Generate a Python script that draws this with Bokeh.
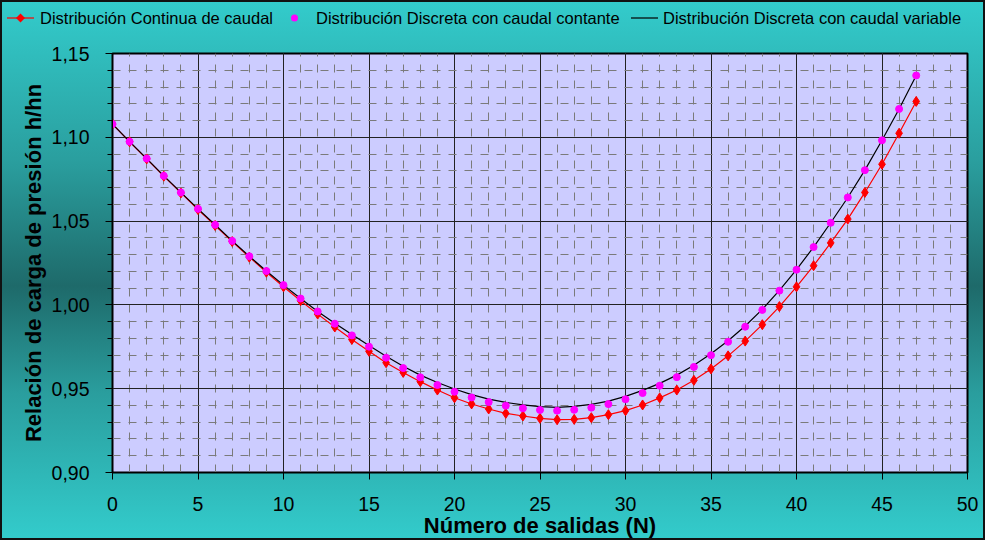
from bokeh.plotting import figure
from bokeh.layouts import column
from bokeh.models import Range1d, FixedTicker, CustomJSTickFormatter, Div
from bokeh.embed import file_html
from bokeh.resources import INLINE

# ---- data ----
N = list(range(48))

continua = [1.1079, 1.0973, 1.0871, 1.0768, 1.0668, 1.0569, 1.0474, 1.0378,
            1.0285, 1.0195, 1.0108, 1.0025, 0.9945, 0.9868, 0.9794, 0.9723,
            0.9655, 0.9597, 0.9542, 0.9492, 0.9446, 0.9409, 0.9379, 0.9353,
            0.9337, 0.9323, 0.9315, 0.9317, 0.9327, 0.9345, 0.9369, 0.9403,
            0.9445, 0.9492, 0.9550, 0.9618, 0.9696, 0.9784, 0.9882, 0.9990,
            1.0108, 1.0234, 1.0370, 1.0512, 1.0671, 1.0839, 1.1024, 1.1214]

discreta_const = [1.1079, 1.0974, 1.0873, 1.0770, 1.0671, 1.0573, 1.0478, 1.0382,
                  1.0290, 1.0202, 1.0118, 1.0038, 0.9961, 0.9888, 0.9818, 0.9751,
                  0.9685, 0.9623, 0.9568, 0.9522, 0.9482, 0.9448, 0.9420, 0.9399,
                  0.9383, 0.9373, 0.9369, 0.9374, 0.9387, 0.9408, 0.9437, 0.9474,
                  0.9518, 0.9569, 0.9630, 0.9700, 0.9780, 0.9870, 0.9970, 1.0085,
                  1.0210, 1.0345, 1.0490, 1.0641, 1.0804, 1.0982, 1.1169, 1.1369]

discreta_var = [1.1079, 1.0974, 1.0873, 1.0770, 1.0671, 1.0573, 1.0478, 1.0382,
                1.0290, 1.0202, 1.0118, 1.0038, 0.9961, 0.9891, 0.9823, 0.9758,
                0.9694, 0.9634, 0.9581, 0.9537, 0.9498, 0.9465, 0.9438, 0.9418,
                0.9403, 0.9393, 0.9389, 0.9394, 0.9406, 0.9426, 0.9454, 0.9490,
                0.9532, 0.9581, 0.9640, 0.9708, 0.9786, 0.9874, 0.9973, 1.0087,
                1.0211, 1.0345, 1.0490, 1.0641, 1.0804, 1.0982, 1.1169, 1.1369]

series_names = ["Distribución Continua de caudal",
                "Distribución Discreta con caudal contante",
                "Distribución Discreta con caudal variable"]

x_ticks = [0, 5, 10, 15, 20, 25, 30, 35, 40, 45, 50]
x_minor = list(range(0, 51))
y_ticks = [0.90, 0.95, 1.00, 1.05, 1.10, 1.15]
y_minor = [round(0.90 + 0.01 * i, 2) for i in range(26)]

x_label = "Número de salidas (N)"
y_label = "Relación de carga de presión h/hn"

FONT = "Liberation Sans"
RED = "#FF0000"
MAGENTA = "#FF00FF"

W = 985
LEG_H = 30

# ---------------- main chart ----------------
p = figure(width=W, height=540 - LEG_H, output_backend="svg", toolbar_location=None,
           x_range=Range1d(0, 50), y_range=Range1d(0.90, 1.15),
           min_border_left=112, min_border_right=18,
           min_border_top=53 - LEG_H, min_border_bottom=67)

p.background_fill_color = "#CCCCFF"
p.border_fill_color = None
p.outline_line_color = "black"
p.outline_line_width = 2

p.xaxis.ticker = FixedTicker(ticks=x_ticks, minor_ticks=x_minor)
p.yaxis.ticker = FixedTicker(ticks=y_ticks, minor_ticks=y_minor)
p.yaxis.formatter = CustomJSTickFormatter(code="return tick.toFixed(2).replace('.', ',');")

for ax in (p.xaxis[0], p.yaxis[0]):
    ax.axis_line_color = "black"
    ax.axis_line_width = 1
    ax.major_tick_line_color = "black"
    ax.minor_tick_line_color = "black"
    ax.major_tick_out = 7
    ax.major_tick_in = 0
    ax.minor_tick_in = 0
    ax.major_label_text_font = FONT
    ax.major_label_text_font_size = "19.5px"
    ax.major_label_text_color = "black"
    ax.axis_label_text_font = FONT
    ax.axis_label_text_font_size = "22px"
    ax.axis_label_text_font_style = "bold"
    ax.axis_label_text_color = "black"

p.xaxis.minor_tick_out = 0
p.yaxis.minor_tick_out = 5
p.xaxis.major_label_standoff = 17
p.xaxis.axis_label_standoff = -1
p.yaxis.major_label_standoff = 16
p.yaxis.axis_label_standoff = 3
p.xaxis.axis_label = x_label
p.yaxis.axis_label = y_label

for g in (p.xgrid[0], p.ygrid[0]):
    g.grid_line_color = "#222222"
    g.grid_line_width = 1
    g.minor_grid_line_color = "#7A7A7A"
    g.minor_grid_line_width = 1
    g.minor_grid_line_dash = "8 8"

p.line(N, continua, line_color=RED, line_width=1.2)
p.scatter(N, continua, marker="diamond", size=10, fill_color=RED, line_color=RED)
p.line(N, discreta_var, line_color="black", line_width=1.2)
p.scatter(N, discreta_const, marker="circle", size=7, fill_color=MAGENTA,
          line_color=MAGENTA)

# ---------------- legend strip (real text) ----------------
def glyph_svg(kind, color):
    parts = []
    if kind in ("line", "line+diamond"):
        parts.append(f'<line x1="0" y1="10" x2="27" y2="10" stroke="{color}" stroke-width="1.2"/>')
    if kind == "line+diamond":
        parts.append(f'<polygon points="13.5,5.5 18,10 13.5,14.5 9,10" fill="{color}"/>')
    if kind == "dot":
        parts.append(f'<circle cx="13.5" cy="10" r="3.5" fill="{color}"/>')
    return '<svg width="27" height="20" style="display:block">' + "".join(parts) + "</svg>"

legend_items = [
    (series_names[0], "line+diamond", RED, 7, 40),
    (series_names[1], "dot", MAGENTA, 281, 316),
    (series_names[2], "line", "black", 631, 663),
]
html = [f'<div style="position:relative;width:{W}px;height:{LEG_H}px;'
        f'font-family:\'{FONT}\',Arial,sans-serif;font-size:16.5px;color:#000;">']
for label, kind, color, gx, tx in legend_items:
    html.append(f'<div style="position:absolute;left:{gx}px;top:8px;">{glyph_svg(kind, color)}</div>')
    html.append(f'<span style="position:absolute;left:{tx}px;top:8px;line-height:20px;'
                f'white-space:nowrap;">{label}</span>')
html.append("</div>")
legend_div = Div(text="".join(html), width=W, height=LEG_H, styles={"margin": "0"})

layout = column(legend_div, p, spacing=0)
layout.styles = {
    "background": "linear-gradient(to bottom, #33CCCC 0%, #2A9E9E 30%, #1E6A6A 53%, #2A9E9E 73%, #33CCCC 100%)",
    "box-shadow": "inset 0 0 0 2px #111111",
}

open("out.html", "w").write(file_html(layout, INLINE))
